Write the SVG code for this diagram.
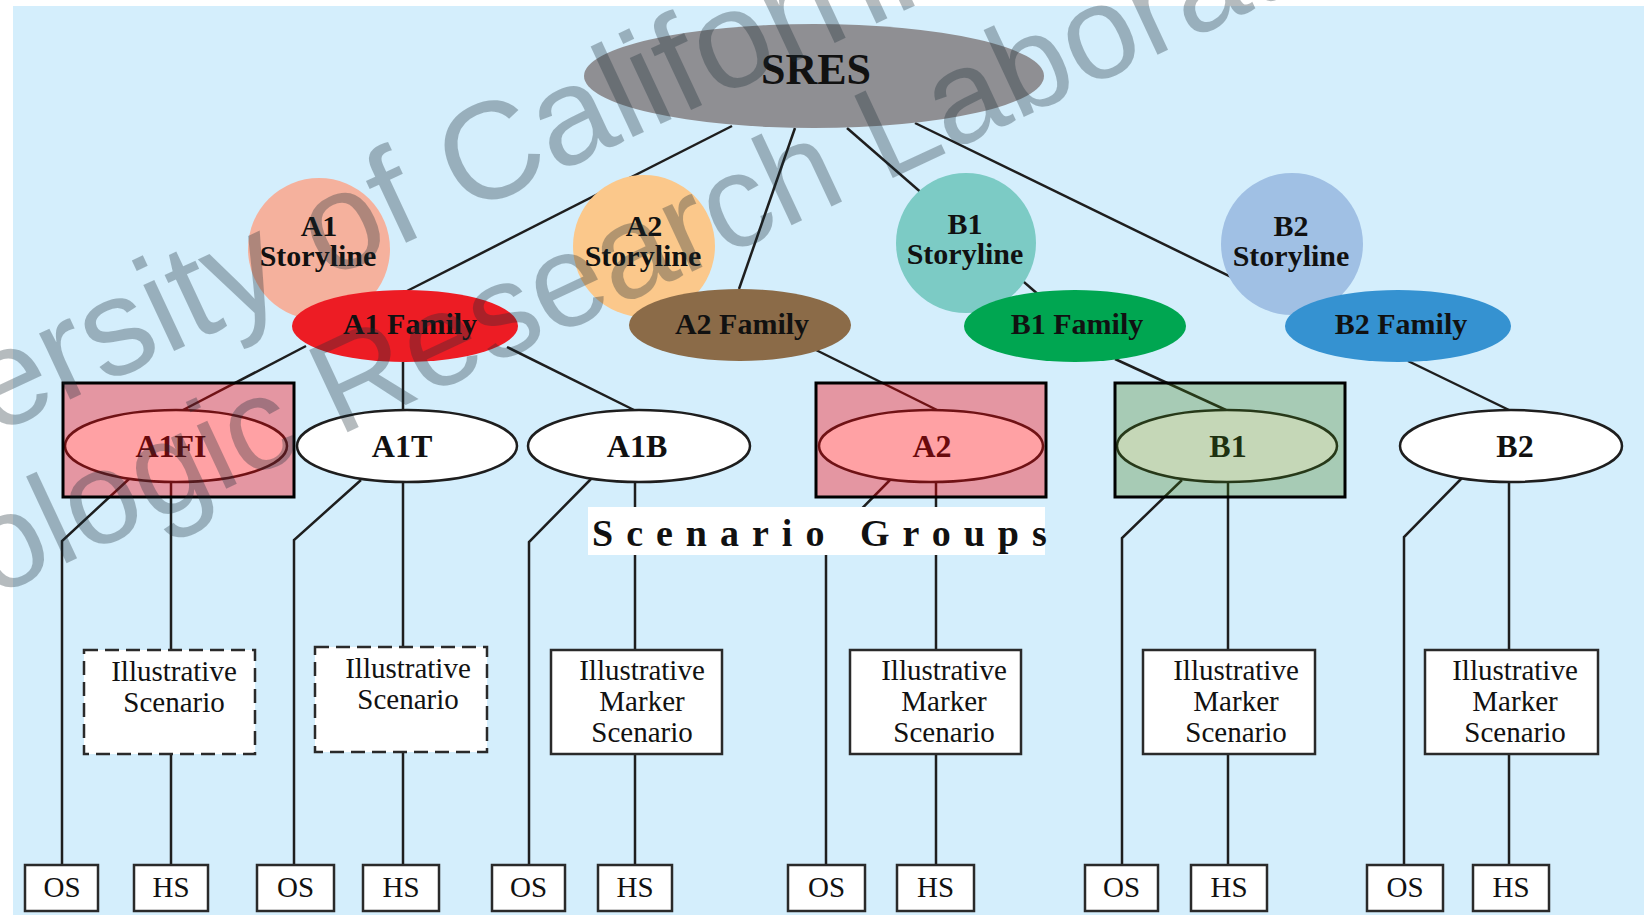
<svg xmlns="http://www.w3.org/2000/svg" width="1644" height="915" viewBox="0 0 1644 915">
<style>
.ln{stroke:#1e1e1e;stroke-width:2.5;fill:none}
.t{font-family:'Liberation Serif','Times New Roman',serif;fill:#111;text-anchor:middle}
.b{font-weight:bold}
.st{font-size:30px;font-weight:bold}
.fam{font-size:30px;font-weight:bold}
.sc{font-size:32px;font-weight:bold}
.sm{font-size:29px}
.se{fill:#fff;stroke:#1e1e1e;stroke-width:2.5}
.bx{fill:#fff;stroke:#2a2a2a;stroke-width:2.5}
.dash{stroke-dasharray:14 7}
.ovr{fill:#ff0008;fill-opacity:0.37;stroke:#000;stroke-width:3}
.ovg{fill:#3e7a10;fill-opacity:0.3;stroke:#000;stroke-width:3}
.wm{font-family:'Liberation Sans',Arial,sans-serif;font-size:132px;fill:#1a2a35;fill-opacity:0.32}
</style>
<rect x="0" y="0" width="1644" height="915" fill="#fff"/>
<rect x="13" y="6" width="1631" height="909" fill="#d4eefc"/>

<g id="connectors">
<line class="ln" x1="732" y1="126" x2="407" y2="291"/>
<line class="ln" x1="795" y1="128" x2="739" y2="289"/>
<line class="ln" x1="847" y1="128" x2="1040" y2="296"/>
<line class="ln" x1="915" y1="123" x2="1305" y2="313"/>
<line class="ln" x1="306" y1="346" x2="183" y2="410"/>
<line class="ln" x1="403" y1="362" x2="403" y2="410"/>
<line class="ln" x1="507" y1="347" x2="634" y2="410"/>
<line class="ln" x1="816" y1="350" x2="937" y2="410"/>
<line class="ln" x1="1115" y1="359" x2="1226" y2="410"/>
<line class="ln" x1="1408" y1="361" x2="1509" y2="410"/>
<polyline class="ln" points="129,479 62,541 62,865"/>
<line class="ln" x1="171" y1="482" x2="171" y2="650"/>
<line class="ln" x1="171" y1="754" x2="171" y2="865"/>
<polyline class="ln" points="361,480 294,540 294,865"/>
<line class="ln" x1="403" y1="482" x2="403" y2="647"/>
<line class="ln" x1="403" y1="752" x2="403" y2="865"/>
<polyline class="ln" points="591,479 529,542 529,865"/>
<line class="ln" x1="635" y1="482" x2="635" y2="650"/>
<line class="ln" x1="635" y1="754" x2="635" y2="865"/>
<polyline class="ln" points="890,480 826,545 826,865"/>
<line class="ln" x1="936" y1="482" x2="936" y2="650"/>
<line class="ln" x1="936" y1="754" x2="936" y2="865"/>
<polyline class="ln" points="1182,480 1122,538 1122,865"/>
<line class="ln" x1="1228" y1="482" x2="1228" y2="650"/>
<line class="ln" x1="1228" y1="754" x2="1228" y2="865"/>
<polyline class="ln" points="1462,478 1404,537 1404,865"/>
<line class="ln" x1="1509" y1="482" x2="1509" y2="650"/>
<line class="ln" x1="1509" y1="754" x2="1509" y2="865"/>
</g>

<g id="sres">
<ellipse cx="814" cy="76" rx="230" ry="52" fill="#8f8f93"/>
<text class="t b" x="816" y="84" font-size="44">SRES</text>
</g>

<g id="a1-storyline">
<circle cx="319" cy="249" r="71" fill="#f5b19d"/>
<text class="t st" x="319" y="236">A1</text>
<text class="t st" x="318" y="266">Storyline</text>
</g>
<g id="a2-storyline">
<circle cx="644" cy="246" r="71" fill="#fbc88b"/>
<text class="t st" x="644" y="236">A2</text>
<text class="t st" x="643" y="266">Storyline</text>
</g>
<g id="b1-storyline">
<circle cx="966" cy="243" r="70" fill="#7ccbc5"/>
<text class="t st" x="965" y="234">B1</text>
<text class="t st" x="965" y="264">Storyline</text>
</g>
<g id="b2-storyline">
<circle cx="1292" cy="244" r="71" fill="#a0c0e4"/>
<text class="t st" x="1291" y="236">B2</text>
<text class="t st" x="1291" y="266">Storyline</text>
</g>

<g id="a1-family">
<ellipse cx="405" cy="326" rx="113" ry="36" fill="#ed1c24"/>
<text class="t fam" x="410" y="334">A1 Family</text>
</g>
<g id="a2-family">
<ellipse cx="740" cy="325" rx="111" ry="36" fill="#8b6b48"/>
<text class="t fam" x="742" y="334">A2 Family</text>
</g>
<g id="b1-family">
<ellipse cx="1075" cy="326" rx="111" ry="36" fill="#00a651"/>
<text class="t fam" x="1077" y="334">B1 Family</text>
</g>
<g id="b2-family">
<ellipse cx="1398" cy="326" rx="113" ry="36" fill="#3592d1"/>
<text class="t fam" x="1401" y="334">B2 Family</text>
</g>

<g id="a1fi">
<ellipse class="se" cx="176" cy="446" rx="111" ry="36"/>
<text class="t sc" x="171" y="457">A1FI</text>
<rect class="ovr" x="63" y="383" width="231" height="114"/>
</g>
<g id="a1t">
<ellipse class="se" cx="407" cy="446" rx="110" ry="36"/>
<text class="t sc" x="402" y="457">A1T</text>
</g>
<g id="a1b">
<ellipse class="se" cx="639" cy="446" rx="111" ry="36"/>
<text class="t sc" x="637" y="457">A1B</text>
</g>
<g id="a2">
<ellipse class="se" cx="931" cy="446" rx="112" ry="36"/>
<text class="t sc" x="932" y="457">A2</text>
<rect class="ovr" x="816" y="383" width="230" height="114"/>
</g>
<g id="b1">
<ellipse class="se" cx="1227" cy="446" rx="110" ry="36"/>
<text class="t sc" x="1228" y="457">B1</text>
<rect class="ovg" x="1115" y="383" width="230" height="114"/>
</g>
<g id="b2">
<ellipse class="se" cx="1511" cy="446" rx="111" ry="36"/>
<text class="t sc" x="1515" y="457">B2</text>
</g>

<g id="scenario-groups-label">
<rect x="588" y="507" width="457" height="48" fill="#fff"/>
<text class="t b" x="592" y="546" font-size="38" letter-spacing="13" style="text-anchor:start">Scenario Groups</text>
</g>

<g id="is-a1fi">
<rect class="bx dash" x="84" y="650" width="171" height="104"/>
<text class="t sm" x="174" y="681">Illustrative</text>
<text class="t sm" x="174" y="712">Scenario</text>
</g>
<g id="is-a1t">
<rect class="bx dash" x="315" y="647" width="172" height="105"/>
<text class="t sm" x="408" y="678">Illustrative</text>
<text class="t sm" x="408" y="709">Scenario</text>
</g>
<g id="ims-a1b">
<rect class="bx" x="551" y="650" width="171" height="104"/>
<text class="t sm" x="642" y="680">Illustrative</text>
<text class="t sm" x="642" y="711">Marker</text>
<text class="t sm" x="642" y="742">Scenario</text>
</g>
<g id="ims-a2">
<rect class="bx" x="850" y="650" width="171" height="104"/>
<text class="t sm" x="944" y="680">Illustrative</text>
<text class="t sm" x="944" y="711">Marker</text>
<text class="t sm" x="944" y="742">Scenario</text>
</g>
<g id="ims-b1">
<rect class="bx" x="1143" y="650" width="172" height="104"/>
<text class="t sm" x="1236" y="680">Illustrative</text>
<text class="t sm" x="1236" y="711">Marker</text>
<text class="t sm" x="1236" y="742">Scenario</text>
</g>
<g id="ims-b2">
<rect class="bx" x="1425" y="650" width="173" height="104"/>
<text class="t sm" x="1515" y="680">Illustrative</text>
<text class="t sm" x="1515" y="711">Marker</text>
<text class="t sm" x="1515" y="742">Scenario</text>
</g>

<g id="os-a1fi"><rect class="bx" x="25" y="865" width="73" height="46"/><text class="t sm" x="62" y="897">OS</text></g>
<g id="hs-a1fi"><rect class="bx" x="134" y="865" width="74" height="46"/><text class="t sm" x="171" y="897">HS</text></g>
<g id="os-a1t"><rect class="bx" x="257" y="865" width="77" height="46"/><text class="t sm" x="295.5" y="897">OS</text></g>
<g id="hs-a1t"><rect class="bx" x="363" y="865" width="76" height="46"/><text class="t sm" x="401" y="897">HS</text></g>
<g id="os-a1b"><rect class="bx" x="492" y="865" width="73" height="46"/><text class="t sm" x="528.5" y="897">OS</text></g>
<g id="hs-a1b"><rect class="bx" x="598" y="865" width="74" height="46"/><text class="t sm" x="635" y="897">HS</text></g>
<g id="os-a2"><rect class="bx" x="788" y="865" width="77" height="46"/><text class="t sm" x="826.5" y="897">OS</text></g>
<g id="hs-a2"><rect class="bx" x="897" y="865" width="77" height="46"/><text class="t sm" x="935.5" y="897">HS</text></g>
<g id="os-b1"><rect class="bx" x="1085" y="865" width="73" height="46"/><text class="t sm" x="1121.5" y="897">OS</text></g>
<g id="hs-b1"><rect class="bx" x="1191" y="865" width="76" height="46"/><text class="t sm" x="1229" y="897">HS</text></g>
<g id="os-b2"><rect class="bx" x="1367" y="865" width="76" height="46"/><text class="t sm" x="1405" y="897">OS</text></g>
<g id="hs-b2"><rect class="bx" x="1473" y="865" width="76" height="46"/><text class="t sm" x="1511" y="897">HS</text></g>

<g id="watermark" class="wm">
<text transform="translate(-8,436) rotate(-25)" font-size="138">ersity of Californi</text>
<text transform="translate(-8,598) rotate(-25)">ologic Research Laborat</text>
</g>
</svg>
